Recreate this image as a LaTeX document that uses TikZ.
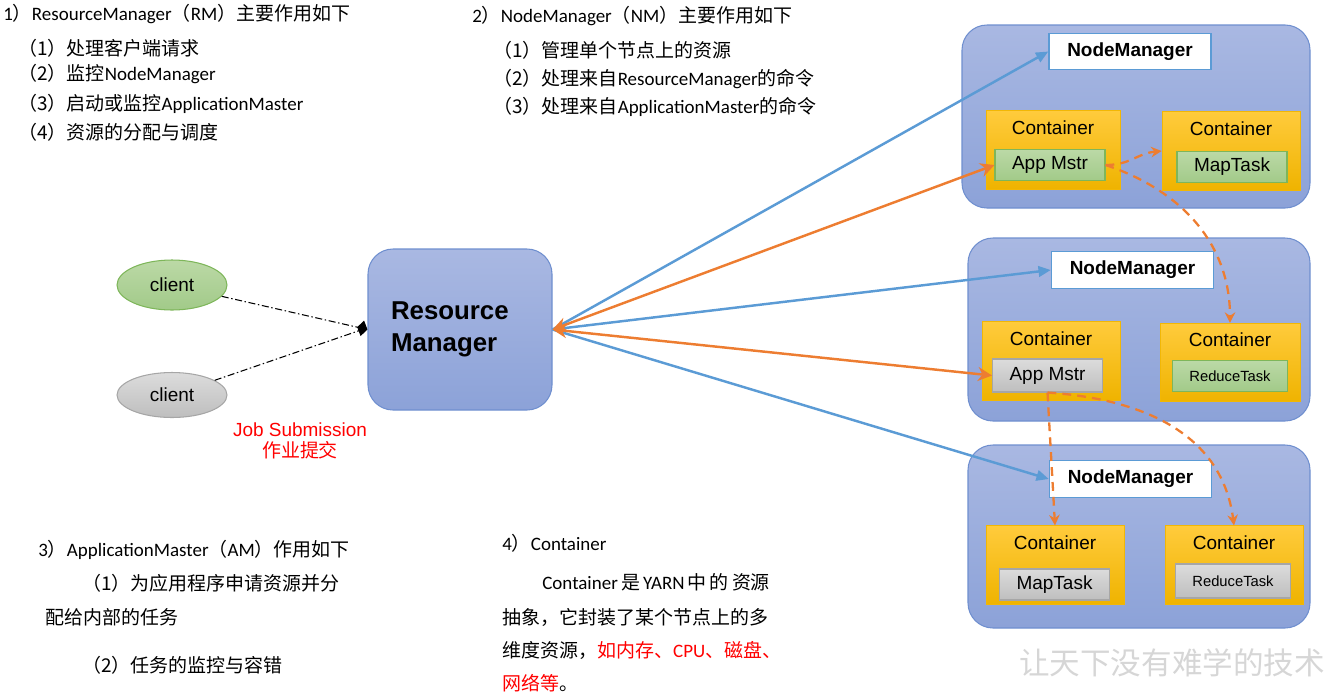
\documentclass[tikz,border=0pt]{standalone}
\usepackage{fontspec}
\setmainfont{Noto Sans CJK SC}
\newfontfamily\calibri{Carlito}
\newfontfamily\arial{Liberation Sans}
\usepackage{tikz}
\usetikzlibrary{calc,positioning,arrows.meta,shapes.geometric}

\definecolor{blueline}{HTML}{5B9BD5}
\definecolor{orangeline}{HTML}{ED7D31}
\definecolor{nmtop}{HTML}{A9B8E2}
\definecolor{nmbottom}{HTML}{8CA2D8}
\definecolor{nmborder}{HTML}{6F8FCF}
\definecolor{ctop}{HTML}{FFCB3C}
\definecolor{cbottom}{HTML}{EFB300}
\definecolor{cborder}{HTML}{F2B705}
\definecolor{gtop}{HTML}{BBD9A6}
\definecolor{gbottom}{HTML}{A2CA89}
\definecolor{gborder}{HTML}{7EB65A}
\definecolor{stop}{HTML}{DCDCDC}
\definecolor{sbottom}{HTML}{BEBEBE}
\definecolor{sborder}{HTML}{A6A6A6}
\definecolor{textred}{HTML}{FF0000}
\definecolor{wmgray}{HTML}{D6D6D6}

\newcommand{\eng}[1]{{\calibri #1}}

\begin{document}
\begin{tikzpicture}[
  txt/.style={anchor=west,inner sep=0pt,font=\fontsize{10.8}{13}\selectfont},
  nm_frame/.style={rectangle,rounded corners=0.5cm,draw=nmborder,line width=0.6pt,
    top color=nmtop,bottom color=nmbottom,minimum height=3.66cm},
  nm_label/.style={rectangle,draw=blueline,line width=0.8pt,fill=white,
    minimum width=3.24cm,minimum height=0.73cm,font=\arial\bfseries\fontsize{10.8}{13}\selectfont},
  container/.style={rectangle,draw=cborder,line width=0.4pt,top color=ctop,bottom color=cbottom,
    minimum height=1.57cm},
  cont_title/.style={inner sep=0pt,font=\arial\fontsize{10.8}{13}\selectfont},
  task/.style={rectangle,line width=0.6pt,minimum width=2.2cm,minimum height=0.62cm,
    font=\arial\fontsize{10.8}{13}\selectfont},
  task_green/.style={task,draw=gborder,top color=gtop,bottom color=gbottom},
  task_gray/.style={task,draw=sborder,top color=stop,bottom color=sbottom},
  small_task/.style={minimum width=2.3cm,font=\arial\fontsize{8.4}{10}\selectfont},
  client/.style={ellipse,line width=0.6pt,minimum width=2.2cm,font=\arial\fontsize{10.8}{13}\selectfont},
  rm_link/.style={draw=blueline,line width=1.4pt,-{Triangle[length=7pt,width=6pt]}},
  am_link/.style={draw=orangeline,line width=1.4pt,
    {Stealth[length=8pt,width=8pt]}-{Stealth[length=8pt,width=8pt]}},
  am_dash/.style={draw=orangeline,line width=1.3pt,dash pattern=on 5pt off 3.5pt,
    -{Stealth[length=6pt,width=6pt]}},
  submit/.style={draw=black,line width=0.6pt,dash pattern=on 4pt off 1.5pt on 0.8pt off 1.5pt},
  ]

  \useasboundingbox (0,0) rectangle (26.64,-13.96);

  % text blocks
  \node (rm_head) [txt] at (0.06,-0.28) {\eng{1}）\eng{ResourceManager}（\eng{RM}）主要作用如下};
  \foreach \y/\t [count=\k] in {-0.96/{（1）处理客户端请求}, -1.48/{（2）监控\eng{NodeManager}},
      -2.08/{（3）启动或监控\eng{ApplicationMaster}}, -2.64/{（4）资源的分配与调度}}
    \node (rm_item_\k) [txt] at (0.36,\y) {\t};

  \node (nm_head) [txt] at (9.44,-0.32) {\eng{2}）\eng{NodeManager}（\eng{NM}）主要作用如下};
  \foreach \y/\t [count=\k] in {-1.00/{（1）管理单个节点上的资源}, -1.58/{（2）处理来自\eng{ResourceManager}的命令},
      -2.14/{（3）处理来自\eng{ApplicationMaster}的命令}}
    \node (nm_item_\k) [txt] at (9.86,\y) {\t};

  \node (am_head) [txt] at (0.76,-11.00) {\eng{3}）\eng{ApplicationMaster}（\eng{AM}）作用如下};
  \node (am_item_1) [txt] at (1.64,-11.66) {（1）为应用程序申请资源并分};
  \node (am_item_1b) [txt] at (0.90,-12.34) {配给内部的任务};
  \node (am_item_2) [txt] at (1.64,-13.30) {（2）任务的监控与容错};

  \node (ct_head) [txt] at (10.04,-10.86) {\eng{4}）\eng{Container}};
  \node (ct_line_1) [txt] at (10.84,-11.64) {\eng{Container}\,是\,\eng{YARN}\,中\,的\,资源};
  \node (ct_line_2) [txt] at (10.04,-12.34) {抽象，它封装了某个节点上的多};
  \node (ct_line_3) [txt] at (10.04,-13.00) {维度资源，\textcolor{textred}{如内存、\eng{CPU}、磁盘、}};
  \node (ct_line_4) [txt] at (10.04,-13.66) {\textcolor{textred}{网络等}。};

  % clients and resource manager
  \node (client_1) [client,draw=gborder,top color=gtop,bottom color=gbottom,minimum height=1.0cm] at (3.44,-5.70) {client};
  \node (client_2) [client,draw=sborder,top color=stop,bottom color=sbottom,minimum height=0.9cm] at (3.44,-7.90) {client};

  \node (rm) [rectangle,rounded corners=0.5cm,draw=nmborder,line width=0.6pt,top color=nmtop,bottom color=nmbottom,
    minimum height=3.22cm,text width=2.76cm,inner xsep=0.46cm,align=left,
    font=\arial\bfseries\fontsize{14.7}{18.2}\selectfont] at (9.20,-6.59) {Resource\\Manager\\[-0.15cm]};

  \coordinate (submit_point) at ($(rm.west)+(-0.1,0)$);
  \draw [submit,-{Diamond[length=6pt,width=9pt]}] (client_1) -- (rm.west);
  \draw [submit] (client_2) -- (submit_point);
  \node (job_label) [text=textred,align=center,font=\arial\fontsize{10.8}{12}\selectfont] at (6.00,-8.81)
    {Job Submission\\{\normalfont 作业提交}};

  % node managers
  \foreach \i/\x/\y/\w in {1/22.72/-2.33/6.96, 2/22.78/-6.59/6.84, 3/22.78/-10.73/6.84}
    \node (nm_box_\i) [nm_frame,minimum width=\w cm] at (\x,\y) {};
  \foreach \i/\x/\y in {1/22.60/-1.03, 2/22.65/-5.40, 3/22.61/-9.58}
    \node (nm_\i) [nm_label] at (\x,\y) {NodeManager};

  \foreach \n/\x/\y/\w in {1l/21.06/-3.00/2.68, 1r/24.62/-3.02/2.76, 2l/21.02/-7.22/2.76,
      2r/24.60/-7.25/2.80, 3l/21.10/-11.30/2.76, 3r/24.68/-11.30/2.76}
  {
    \node (cont_\n) [container,minimum width=\w cm] at (\x,\y) {};
    \node (cont_\n_title) [cont_title] at ($(cont_\n.north)+(0,-0.34)$) {Container};
  }

  \node (app_mstr_1) [task_green] at (21.00,-3.30) {App Mstr};
  \node (map_task_1) [task_green] at (24.64,-3.34) {MapTask};
  \node (app_mstr_2) [task_gray,minimum height=0.66cm] at (20.95,-7.51) {App Mstr};
  \node (reduce_task_2) [task_green,small_task] at (24.60,-7.52) {ReduceTask};
  \node (map_task_3) [task_gray] at (21.09,-11.69) {MapTask};
  \node (reduce_task_3) [task_gray,small_task,minimum height=0.68cm] at (24.66,-11.62) {ReduceTask};

  % links
  \foreach \i in {1,2,3}
    \draw [rm_link] (rm.east) -- (nm_\i.west);
  \foreach \i in {1,2}
    \draw [am_link] (rm.east) -- (app_mstr_\i.west);

  \draw [am_dash] (app_mstr_1.east) .. controls +(0.5,0) and +(-0.5,-0.05) .. (cont_1r.west);
  \draw [am_dash] (app_mstr_1.east) .. controls +(1.5,-0.5) and +(0,1.6) .. (cont_2r.north);
  \draw [am_dash] (app_mstr_2.south) -- (cont_3l.north);
  \draw [am_dash] (app_mstr_2.south) .. controls +(1.65,-0.11) and +(-0.26,1.98) .. (cont_3r.north);

  \node (slogan) [text=wmgray,font=\fontsize{17.4}{20}\selectfont] at (23.44,-13.26) {让天下没有难学的技术};

\end{tikzpicture}
\end{document}
